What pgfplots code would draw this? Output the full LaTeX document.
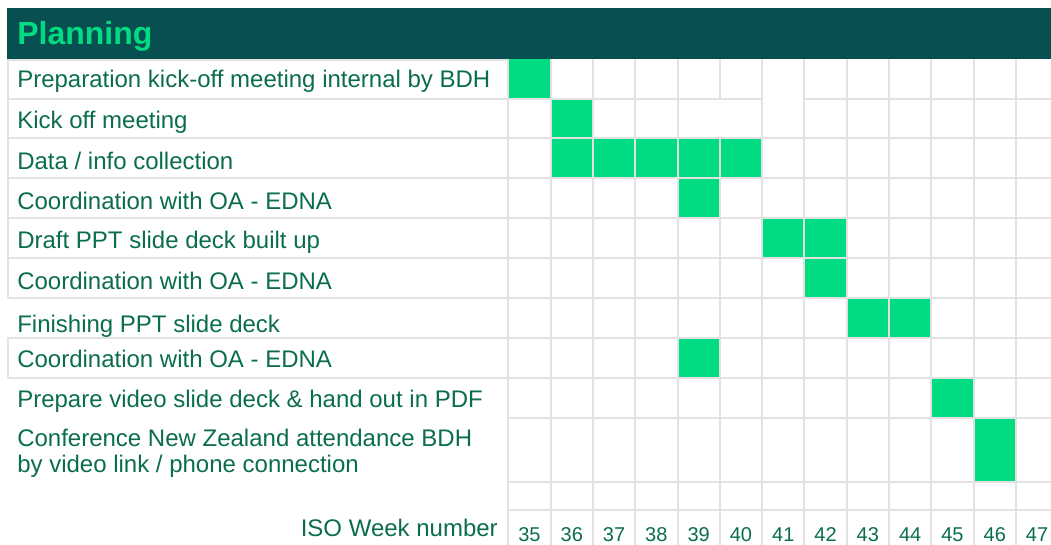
\documentclass[border=0pt]{standalone}
\usepackage{pgfplots}
\pgfplotsset{compat=1.18}
\usepackage{fontspec}
\setmainfont{Liberation Sans}
\definecolor{titlebg}{RGB}{7,79,81}
\definecolor{cellgreen}{RGB}{0,220,130}
\definecolor{textgreen}{RGB}{10,110,74}
\definecolor{gridgray}{RGB}{226,226,226}
\begin{document}
\begin{tikzpicture}
\useasboundingbox (0,0) rectangle (788.25pt,408.75pt);
\begin{axis}[at={(0,0)}, anchor=south west, scale only axis,
  width=788.25pt, height=408.75pt,
  xmin=22.483, xmax=47.330, ymin=-1.472, ymax=12.197,
  y dir=reverse, hide axis]
% task rows: x = ISO week (cell from w-0.5 to w+0.5), y = row index (row i spans i-1..i)
\addplot[draw=none, fill=cellgreen] coordinates {(34.5,0) (35.5,0) (35.5,1) (34.5,1)} -- cycle;
\addplot[draw=none, fill=cellgreen] coordinates {(35.5,1) (36.5,1) (36.5,2) (35.5,2)} -- cycle;
\addplot[draw=none, fill=cellgreen] coordinates {(35.5,2) (40.5,2) (40.5,3) (35.5,3)} -- cycle;
\addplot[draw=none, fill=cellgreen] coordinates {(38.5,3) (39.5,3) (39.5,4) (38.5,4)} -- cycle;
\addplot[draw=none, fill=cellgreen] coordinates {(40.5,4) (42.5,4) (42.5,5) (40.5,5)} -- cycle;
\addplot[draw=none, fill=cellgreen] coordinates {(41.5,5) (42.5,5) (42.5,6) (41.5,6)} -- cycle;
\addplot[draw=none, fill=cellgreen] coordinates {(42.5,6) (44.5,6) (44.5,7) (42.5,7)} -- cycle;
\addplot[draw=none, fill=cellgreen] coordinates {(38.5,7) (39.5,7) (39.5,8) (38.5,8)} -- cycle;
\addplot[draw=none, fill=cellgreen] coordinates {(44.5,8) (45.5,8) (45.5,9) (44.5,9)} -- cycle;
\addplot[draw=none, fill=cellgreen] coordinates {(45.5,9) (46.5,9) (46.5,10.624) (45.5,10.624)} -- cycle;
\end{axis}
\begin{scope}[shift={(0,408.75pt)}, x=0.75pt, y=-0.75pt]
  % grid: vertical lines
  \foreach \k in {0,1,2,3,4,6,7,8,9,10,11,12} {
    \draw[gridgray, line width=1.5pt] ({508.3+42.3*\k},58.7) -- ({508.3+42.3*\k},545);
  }
  \draw[gridgray, line width=1.5pt] ({508.3+42.3*5},58.7) -- ({508.3+42.3*5},98.6);
  \draw[gridgray, line width=1.5pt] ({508.3+42.3*5},138.4) -- ({508.3+42.3*5},545);
  % grid: horizontal lines
  \foreach \k in {2,...,9} {
    \draw[gridgray, line width=1.5pt] (508.3,{58.7+39.87*\k}) -- (1051,{58.7+39.87*\k});
  }
  \draw[gridgray, line width=1.5pt] (508.3,98.6) -- (762.1,98.6);
  \draw[gridgray, line width=1.5pt] (804.4,98.6) -- (1051,98.6);
  \draw[gridgray, line width=1.5pt] (508.3,482.3) -- (1051,482.3);
  \draw[gridgray, line width=1.5pt] (508.3,510) -- (1051,510);
  % label boxes
  \draw[gridgray, line width=1.5pt] (7,60) -- (508.3,60);
  \foreach \k in {1,...,8} {
    \draw[gridgray, line width=1.5pt] (7,{58.7+39.87*\k}) -- (508.3,{58.7+39.87*\k});
  }
  \draw[gridgray, line width=1.5pt] (8,59) -- (8,297.9);
  \draw[gridgray, line width=1.5pt] (8,337.8) -- (8,377.7);
  % title bar
  \fill[titlebg] (7,8) rectangle (1051,58.7);
  \node[anchor=base west, inner sep=0, text=cellgreen, font=\bfseries\fontsize{24}{28}\selectfont] at (17,45) {Planning};
  % task labels
  \begin{scope}[every node/.style={anchor=base west, inner sep=0, text=textgreen, font=\fontsize{18}{21}\selectfont}]
    \node at (17,88) {Preparation kick-off meeting internal by BDH};
    \node at (17,128.3) {Kick off meeting};
    \node at (17,170) {Data / info collection};
    \node at (17,210) {Coordination with OA - EDNA};
    \node at (17,248.5) {Draft PPT slide deck built up};
    \node at (17,289.3) {Coordination with OA - EDNA};
    \node at (17,332.7) {Finishing PPT slide deck};
    \node at (17,367.7) {Coordination with OA - EDNA};
    \node at (17,407.5) {Prepare video slide deck \& hand out in PDF};
    \node at (17,446.5) {Conference New Zealand attendance BDH};
    \node at (17,473) {by video link / phone connection};
    \node[anchor=base east] at (498,536.5) {ISO Week number};
  \end{scope}
  % week numbers
  \foreach \w in {35,...,47} {
    \node[anchor=base, inner sep=0, text=textgreen, font=\fontsize{15}{18}\selectfont] at ({508.3+42.3*(\w-34.5)},542) {\w};
  }
\end{scope}
\end{tikzpicture}
\end{document}
